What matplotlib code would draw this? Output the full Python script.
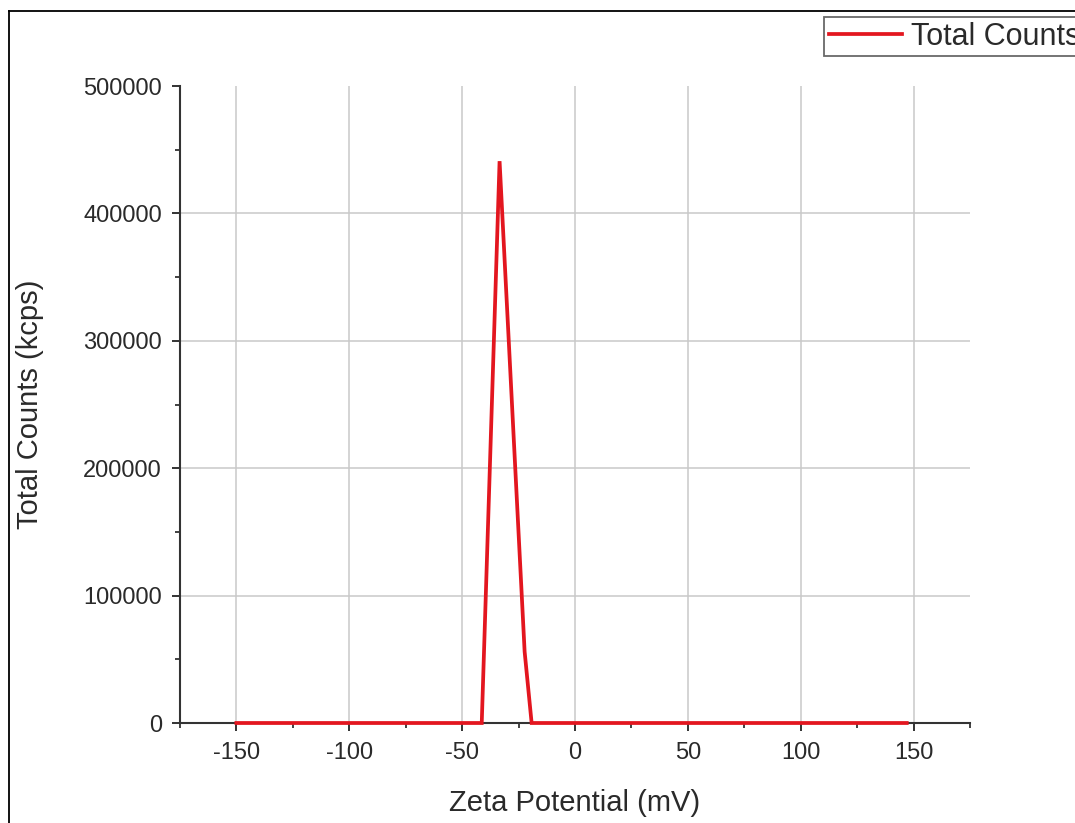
import matplotlib
matplotlib.use('agg')
import matplotlib.pyplot as plt
from matplotlib.lines import Line2D
from matplotlib.ticker import MultipleLocator

# zeta potential distribution (mV vs kcps)
zeta_mv = [-150, -41.3, -33.4, -22.3, -19.2, 147]
total_counts = [0, 0, 441000, 56000, 0, 0]

x_ticks = [-150, -100, -50, 0, 50, 100, 150]
y_ticks = [0, 100000, 200000, 300000, 400000, 500000]

plt.rcParams['font.family'] = ['Liberation Sans', 'DejaVu Sans']
plt.rcParams['axes.unicode_minus'] = False
text_color = '#2a2a2a'
axis_color = '#333333'

fig = plt.figure(figsize=(10.75, 8.23), dpi=100)
ax = fig.add_axes([0.1674, 0.1215, 0.7349, 0.774])

line, = ax.plot(zeta_mv, total_counts, color='#e3161f', lw=2.7,
                solid_joinstyle='miter', zorder=3, clip_on=False)

ax.set_xlim(-175, 175)
ax.set_ylim(0, 500000)
ax.set_xticks(x_ticks)
ax.set_yticks(y_ticks)
ax.xaxis.set_minor_locator(MultipleLocator(25))
ax.yaxis.set_minor_locator(MultipleLocator(50000))

ax.grid(True, which='major', color='#c9c9c9', lw=1.1, zorder=0)
# no grid line along the top edge
ax.yaxis.get_gridlines()[-1].set_visible(False)
ax.set_axisbelow(True)

for side in ['top', 'right']:
    ax.spines[side].set_visible(False)
for side in ['left', 'bottom']:
    ax.spines[side].set_color(axis_color)
    ax.spines[side].set_linewidth(1.5)

ax.tick_params(which='major', direction='out', length=6, width=1.4,
               color=axis_color, labelsize=17, labelcolor=text_color, pad=7)
ax.tick_params(which='minor', direction='out', length=3.5, width=1.3,
               color=axis_color)
ax.tick_params(axis='x', which='major', pad=8)

ax.set_xlabel('Zeta Potential (mV)', fontsize=21, color=text_color, labelpad=18)
ax.set_ylabel('Total Counts (kcps)', fontsize=21, color=text_color, labelpad=28)

leg = fig.legend([line], ['Total Counts'], loc='upper left',
                 bbox_to_anchor=(824 / 1075, 1 - 17 / 823), fontsize=22,
                 frameon=True, fancybox=False, handlelength=2.4,
                 handletextpad=0.3, borderpad=0.15, borderaxespad=0)
leg.get_frame().set_edgecolor('#444444')
leg.get_frame().set_linewidth(1.3)
for t in leg.get_texts():
    t.set_color(text_color)

# outer frame (top and left edges)
top_y = 1 - 11 / 823
left_x = 9 / 1075
fig.add_artist(Line2D([left_x, 1.0], [top_y, top_y], color='black', lw=1.3,
                      transform=fig.transFigure))
fig.add_artist(Line2D([left_x, left_x], [0.0, top_y], color='black', lw=1.3,
                      transform=fig.transFigure))

fig.savefig('out.png', dpi=100)
